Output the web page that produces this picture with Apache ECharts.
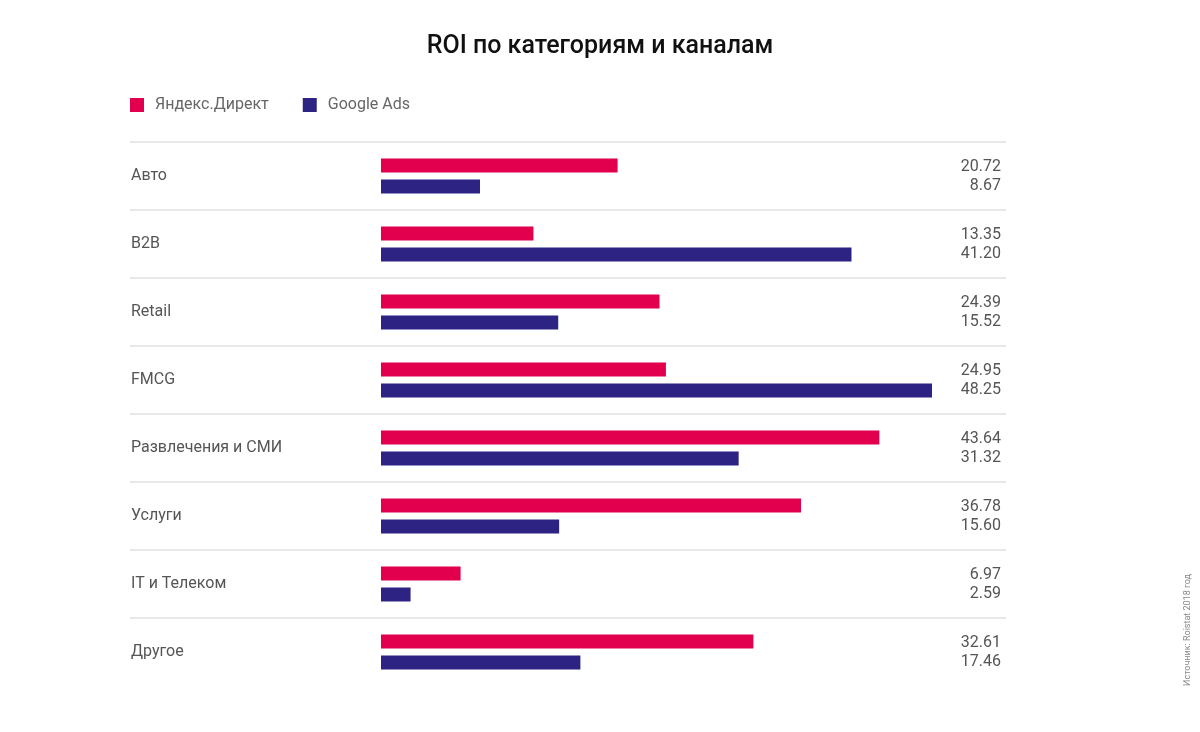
<!DOCTYPE html>
<html>
<head>
<meta charset="utf-8">
<script src="https://cdn.jsdelivr.net/npm/echarts@6/dist/echarts.min.js"></script>
<style>html,body{margin:0;padding:0;background:#fff;}#main{width:1200px;height:732px;}</style>
</head>
<body>
<div id="main"></div>
<script>
const categories = ['Авто', 'B2B', 'Retail', 'FMCG', 'Развлечения и СМИ', 'Услуги', 'IT и Телеком', 'Другое'];
const yandex = [20.72, 13.35, 24.39, 24.95, 43.64, 36.78, 6.97, 32.61];
const google = [8.67, 41.20, 15.52, 48.25, 31.32, 15.60, 2.59, 17.46];
const seriesNames = ['Яндекс.Директ', 'Google Ads'];
const fmt = v => v.toFixed(2);

const chart = echarts.init(document.getElementById('main'));
const FONT = 'Roboto';
chart.setOption({
  animation: false,
  textStyle: { fontFamily: FONT },
  title: {
    text: 'ROI по категориям и каналам',
    left: 'center', top: 29,
    textStyle: { fontFamily: FONT, fontSize: 25, fontWeight: 500, color: '#111' }
  },
  legend: {
    left: 125, top: 92,
    itemWidth: 14, itemHeight: 14, itemGap: 34,
    icon: 'rect',
    textStyle: { fontFamily: FONT, fontSize: 16, color: '#666', padding: [0, 0, 0, 6] },
    data: seriesNames
  },
  grid: [
    { left: 130, width: 876, top: 142, height: 476 },
    { left: 381, width: 551, top: 142, height: 544 }
  ],
  xAxis: [
    { gridIndex: 0, type: 'value', show: false, min: 0, max: 1 },
    { gridIndex: 1, type: 'value', show: false, min: 0, max: Math.max(...yandex, ...google) }
  ],
  yAxis: [
    { gridIndex: 0, type: 'category', data: categories, inverse: true, boundaryGap: false,
      axisLine: { show: false }, axisTick: { show: false }, axisLabel: { show: false },
      splitLine: { show: true, lineStyle: { color: '#e8e8e8', width: 2 } } },
    { gridIndex: 1, type: 'category', data: categories, inverse: true,
      axisLine: { show: false }, axisTick: { show: false }, splitLine: { show: false },
      axisLabel: { margin: 250, align: 'left', fontFamily: FONT, fontSize: 16, color: '#555' } },
    { gridIndex: 1, type: 'category', data: categories, inverse: true, position: 'right',
      axisLine: { show: false }, axisTick: { show: false }, splitLine: { show: false },
      axisLabel: { margin: 69, align: 'right', fontFamily: FONT, fontSize: 16, color: '#555', lineHeight: 19,
        formatter: (v, i) => fmt(yandex[i]) + '\n' + fmt(google[i]) } }
  ],
  series: [
    { name: seriesNames[0], type: 'bar', xAxisIndex: 1, yAxisIndex: 1, data: yandex,
      barWidth: 14, barGap: '50%', itemStyle: { color: '#E2004E' } },
    { name: seriesNames[1], type: 'bar', xAxisIndex: 1, yAxisIndex: 1, data: google,
      barWidth: 14, barGap: '50%', itemStyle: { color: '#2D2383' } }
  ],
  graphic: [{
    type: 'text', x: 1183, y: 686, rotation: Math.PI / 2,
    style: { text: 'Источник: Roistat 2018 год', fontFamily: FONT, fontSize: 9, fill: '#888', textVerticalAlign: 'top' }
  }]
});
</script>
</body>
</html>
